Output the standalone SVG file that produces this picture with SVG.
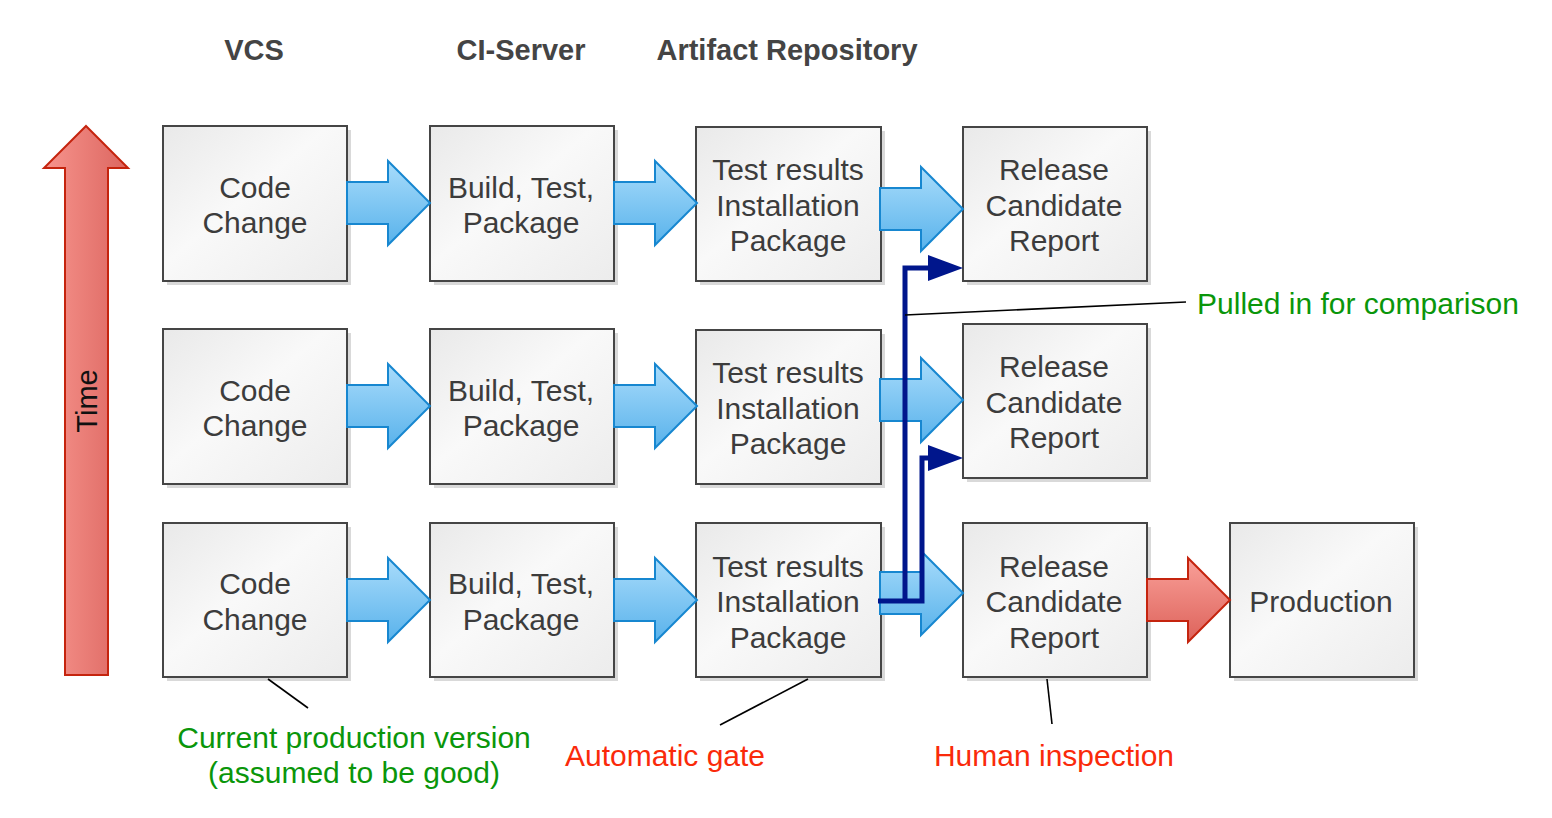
<svg xmlns="http://www.w3.org/2000/svg" width="1552" height="818" viewBox="0 0 1552 818">
<style>
.box{fill:url(#boxg);stroke:#454545;stroke-width:2}
.shadow{fill:#d9d9d9}
.bt{font-family:"Liberation Sans",Arial,sans-serif;font-size:30px;fill:#3c3c3c;text-anchor:middle}
.hd{font-family:"Liberation Sans",Arial,sans-serif;font-size:29px;font-weight:bold;fill:#444;text-anchor:middle}
.green{font-family:"Liberation Sans",Arial,sans-serif;font-size:30px;fill:#0a960a;text-anchor:middle}
.red{font-family:"Liberation Sans",Arial,sans-serif;font-size:30px;fill:#fa2a0a;text-anchor:middle}
.blue{fill:url(#blueg);stroke:#1787d0;stroke-width:2}
.redar{fill:url(#redg);stroke:#c5240e;stroke-width:2}
.navy{fill:none;stroke:#00168c;stroke-width:5}
.ann{stroke:#000;stroke-width:1.6;fill:none}
</style>
<defs>
<linearGradient id="boxg" x1="0" y1="0" x2="1" y2="1">
<stop offset="0" stop-color="#e9e9e9"/>
<stop offset="0.45" stop-color="#f9f9f9"/>
<stop offset="1" stop-color="#ececec"/>
</linearGradient>
<linearGradient id="blueg" x1="0" y1="0" x2="0" y2="1">
<stop offset="0" stop-color="#a9dcfb"/>
<stop offset="1" stop-color="#58b2eb"/>
</linearGradient>
<linearGradient id="redg" x1="0" y1="0" x2="0" y2="1">
<stop offset="0" stop-color="#f9a099"/>
<stop offset="1" stop-color="#dd625a"/>
</linearGradient>
<linearGradient id="timeg" x1="0" y1="0" x2="1" y2="0">
<stop offset="0" stop-color="#f7948d"/>
<stop offset="1" stop-color="#dc6660"/>
</linearGradient>
<path id="ar" d="M0,-21 H41 V-42 L83,0 L41,42 V21 H0 Z"/>
</defs>

<g id="headers">
<text class="hd" x="254" y="60">VCS</text>
<text class="hd" x="521" y="60">CI-Server</text>
<text class="hd" x="787" y="60">Artifact Repository</text>
</g>

<g id="time">
<path d="M86,126 L128,168 H108 V675 H65 V168 H44 Z" fill="url(#timeg)" stroke="#c5240e" stroke-width="2"/>
<text x="97" y="401" transform="rotate(-90 97 401)" font-family="Liberation Sans,Arial,sans-serif" font-size="29" fill="#111" text-anchor="middle">Time</text>
</g>

<!-- Row 1 -->
<g id="code1"><rect class="shadow" x="167" y="130" width="184" height="155"/><rect class="box" x="163" y="126" width="184" height="155"/><text class="bt" x="255" y="198">Code</text><text class="bt" x="255" y="233">Change</text></g>
<g id="build1"><rect class="shadow" x="434" y="130" width="184" height="155"/><rect class="box" x="430" y="126" width="184" height="155"/><text class="bt" x="521" y="198">Build, Test,</text><text class="bt" x="521" y="233">Package</text></g>
<g id="art1"><rect class="shadow" x="700" y="131" width="185" height="154"/><rect class="box" x="696" y="127" width="185" height="154"/><text class="bt" x="788" y="180">Test results</text><text class="bt" x="788" y="216">Installation</text><text class="bt" x="788" y="251">Package</text></g>
<g id="rel1"><rect class="shadow" x="967" y="131" width="184" height="154"/><rect class="box" x="963" y="127" width="184" height="154"/><text class="bt" x="1054" y="180">Release</text><text class="bt" x="1054" y="216">Candidate</text><text class="bt" x="1054" y="251">Report</text></g>

<!-- Row 2 -->
<g id="code2"><rect class="shadow" x="167" y="333" width="184" height="155"/><rect class="box" x="163" y="329" width="184" height="155"/><text class="bt" x="255" y="401">Code</text><text class="bt" x="255" y="436">Change</text></g>
<g id="build2"><rect class="shadow" x="434" y="333" width="184" height="155"/><rect class="box" x="430" y="329" width="184" height="155"/><text class="bt" x="521" y="401">Build, Test,</text><text class="bt" x="521" y="436">Package</text></g>
<g id="art2"><rect class="shadow" x="700" y="334" width="185" height="154"/><rect class="box" x="696" y="330" width="185" height="154"/><text class="bt" x="788" y="383">Test results</text><text class="bt" x="788" y="419">Installation</text><text class="bt" x="788" y="454">Package</text></g>
<g id="rel2"><rect class="shadow" x="967" y="328" width="184" height="154"/><rect class="box" x="963" y="324" width="184" height="154"/><text class="bt" x="1054" y="377">Release</text><text class="bt" x="1054" y="413">Candidate</text><text class="bt" x="1054" y="448">Report</text></g>

<!-- Row 3 -->
<g id="code3"><rect class="shadow" x="167" y="527" width="184" height="154"/><rect class="box" x="163" y="523" width="184" height="154"/><text class="bt" x="255" y="594">Code</text><text class="bt" x="255" y="630">Change</text></g>
<g id="build3"><rect class="shadow" x="434" y="527" width="184" height="154"/><rect class="box" x="430" y="523" width="184" height="154"/><text class="bt" x="521" y="594">Build, Test,</text><text class="bt" x="521" y="630">Package</text></g>
<g id="art3"><rect class="shadow" x="700" y="527" width="185" height="154"/><rect class="box" x="696" y="523" width="185" height="154"/><text class="bt" x="788" y="577">Test results</text><text class="bt" x="788" y="612">Installation</text><text class="bt" x="788" y="648">Package</text></g>
<g id="rel3"><rect class="shadow" x="967" y="527" width="184" height="154"/><rect class="box" x="963" y="523" width="184" height="154"/><text class="bt" x="1054" y="577">Release</text><text class="bt" x="1054" y="612">Candidate</text><text class="bt" x="1054" y="648">Report</text></g>
<g id="prod"><rect class="shadow" x="1234" y="527" width="184" height="154"/><rect class="box" x="1230" y="523" width="184" height="154"/><text class="bt" x="1321" y="612">Production</text></g>

<g id="connectors">
<use href="#ar" class="blue" transform="translate(347,203)"/>
<use href="#ar" class="blue" transform="translate(614,203)"/>
<use href="#ar" class="blue" transform="translate(880,209)"/>
<use href="#ar" class="blue" transform="translate(347,406)"/>
<use href="#ar" class="blue" transform="translate(614,406)"/>
<use href="#ar" class="blue" transform="translate(880,400)"/>
<use href="#ar" class="blue" transform="translate(347,600)"/>
<use href="#ar" class="blue" transform="translate(614,600)"/>
<use href="#ar" class="blue" transform="translate(880,593)"/>
<use href="#ar" class="redar" transform="translate(1147,600)"/>

<path class="navy" d="M878,601 H922 V458 H932"/>
<path class="navy" d="M905,601 V268 H932"/>
<polygon points="928,255 963,268 928,281" fill="#00168c"/>
<polygon points="928,445 963,458 928,471" fill="#00168c"/>

<line class="ann" x1="905" y1="315" x2="1186" y2="302"/>
<line class="ann" x1="268" y1="679" x2="308" y2="708"/>
<line class="ann" x1="808" y1="679" x2="720" y2="725"/>
<line class="ann" x1="1047" y1="679" x2="1052" y2="724"/>
</g>

<g id="labels">
<text class="green" x="1358" y="314">Pulled in for comparison</text>
<text class="green" x="354" y="748">Current production version</text>
<text class="green" x="354" y="783">(assumed to be good)</text>
<text class="red" x="665" y="766">Automatic gate</text>
<text class="red" x="1054" y="766">Human inspection</text>
</g>
</svg>
